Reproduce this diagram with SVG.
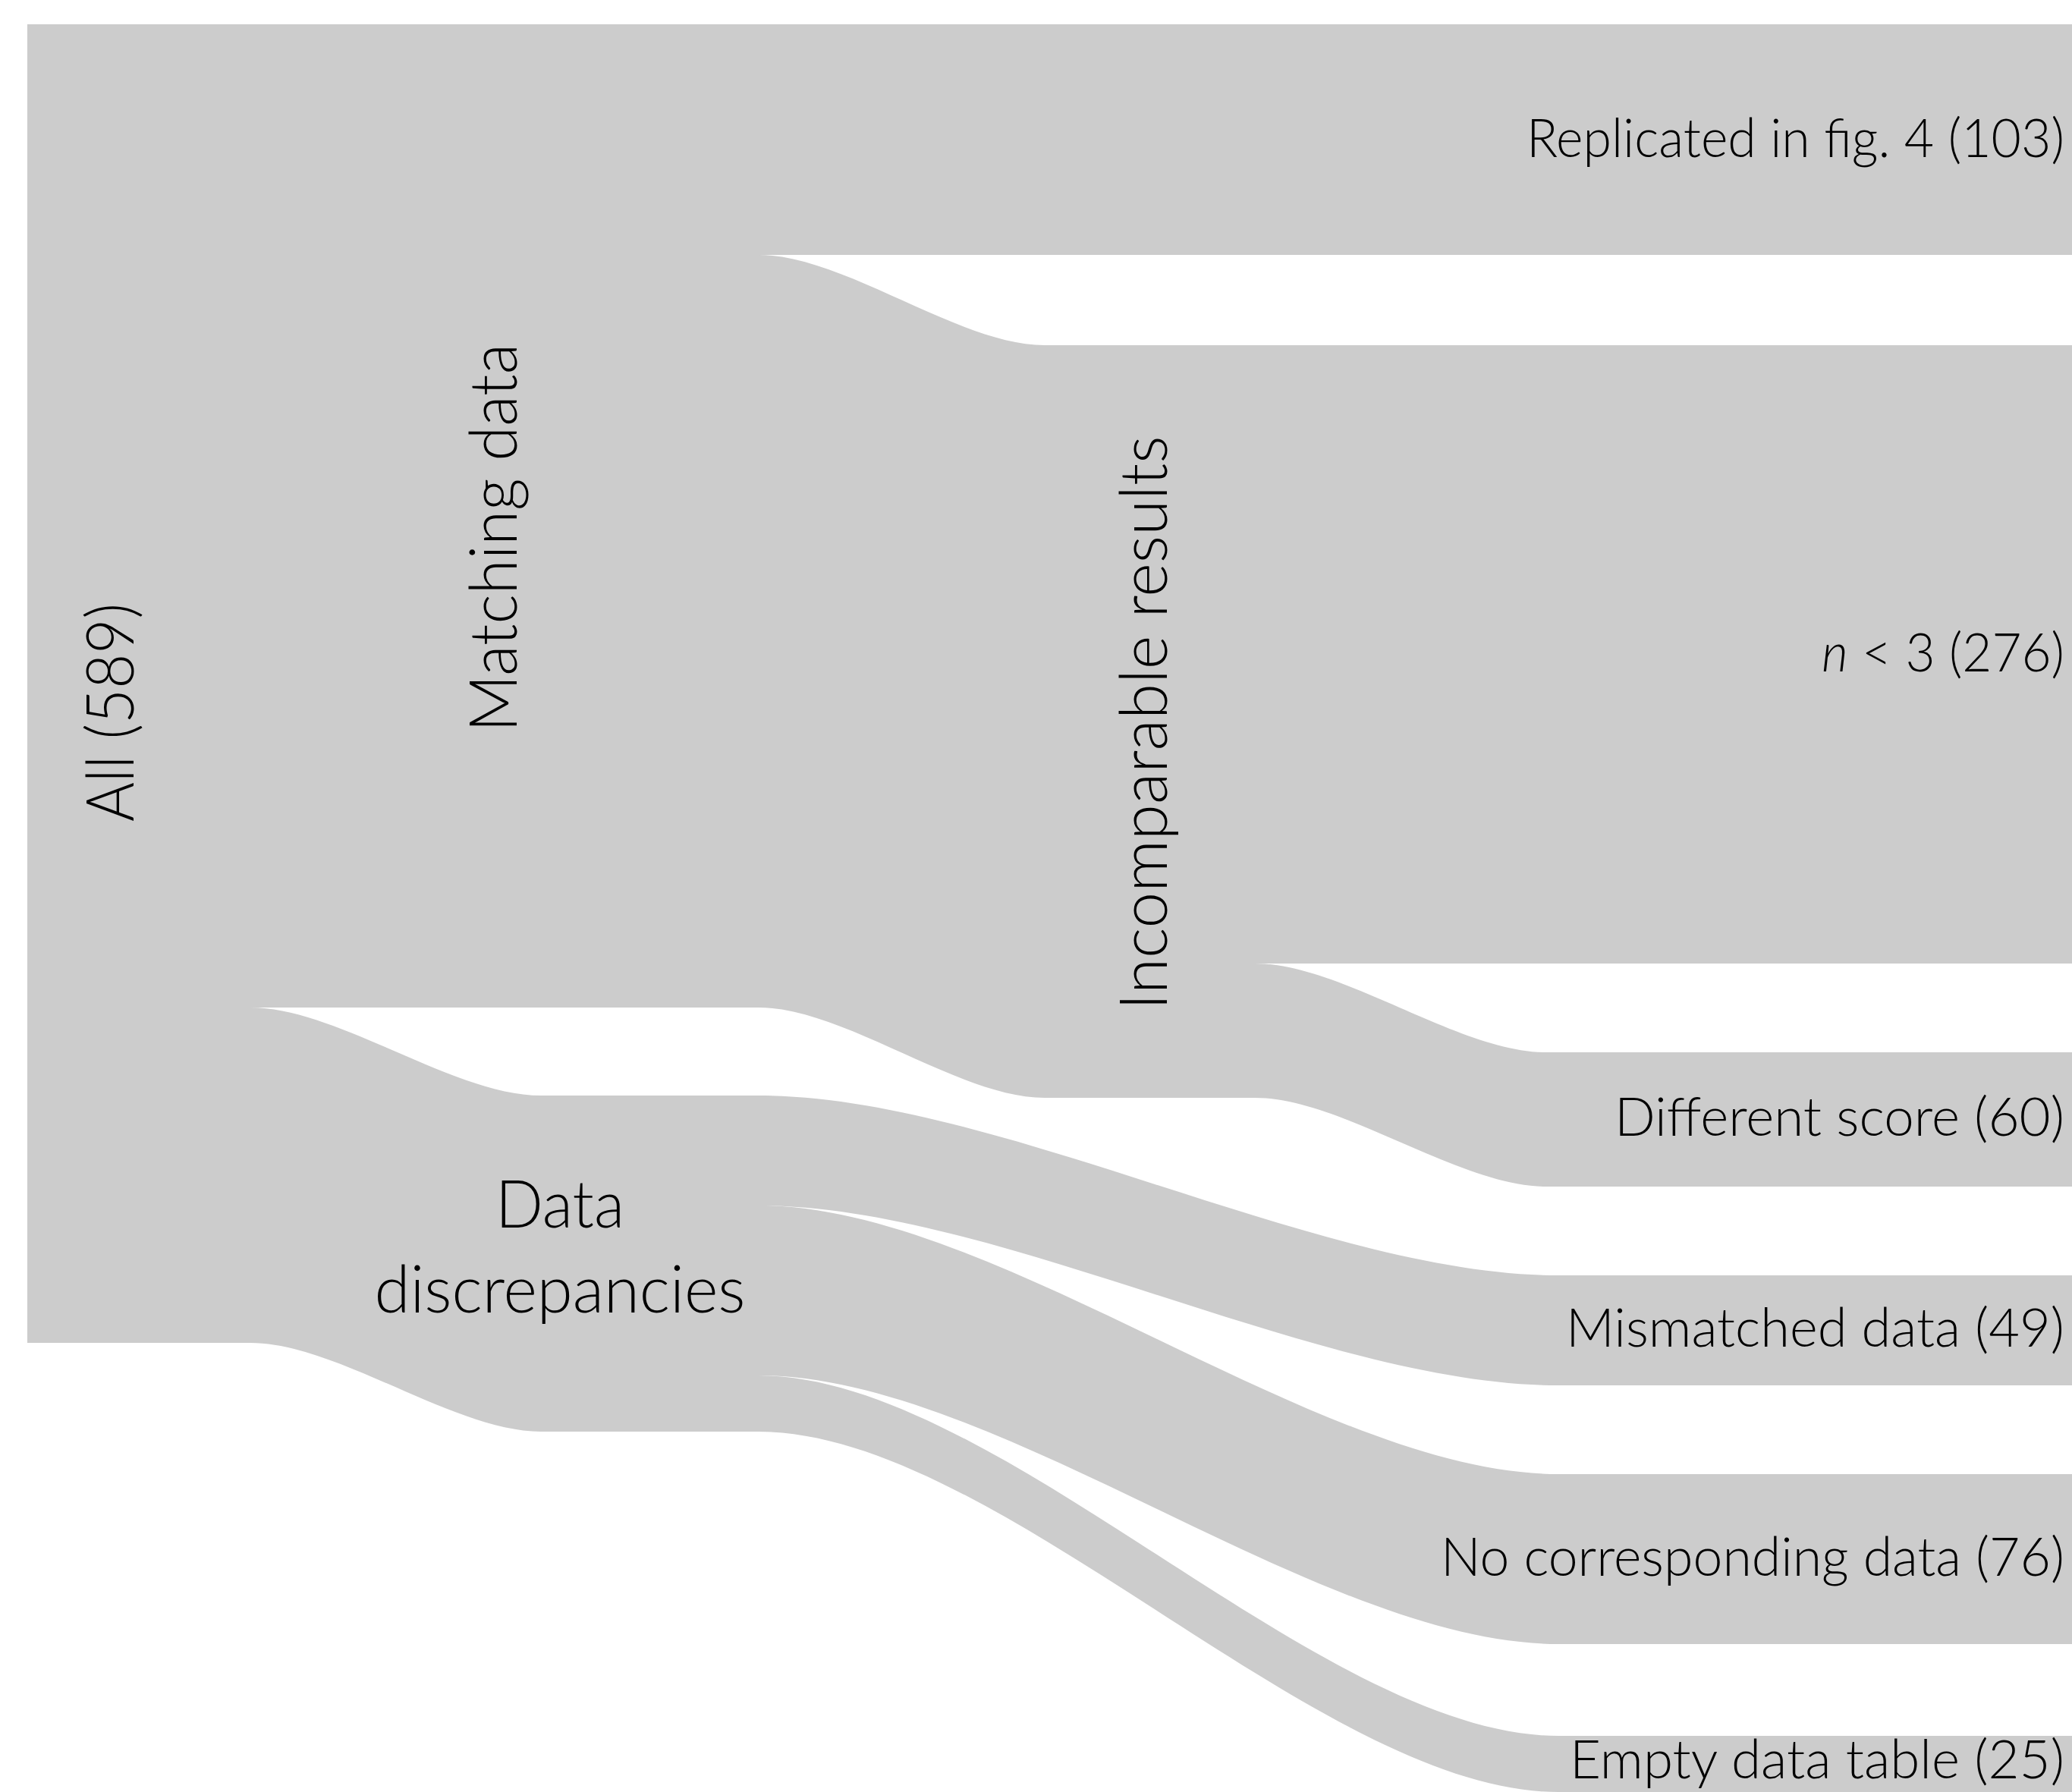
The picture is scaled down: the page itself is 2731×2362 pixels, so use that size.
<svg xmlns="http://www.w3.org/2000/svg" width="2731" height="2362" viewBox="0 0 2731 2362">
<style>
.n{fill:#cccccc}
.l{fill:#cccccc}
.t{font-family:Lato,"Open Sans","Liberation Sans",sans-serif;font-weight:300;fill:#000}
.r{font-size:71px;text-anchor:end}
.v{font-size:86px;text-anchor:middle}
</style>
<rect width="2731" height="2362" fill="#ffffff"/>
<g id="connectors">
<path class="l" d="M330,32 L1002,32 L1002,1328 L330,1328 Z"/>
<path class="l" d="M330,1328 C445,1328 598,1444 713,1444 L713,1887 C598,1887 445,1770 330,1770 Z"/>
<path class="l" d="M1000,32 L2040,32 L2040,336 L1000,336 Z"/>
<path class="l" d="M1000,336 C1113,336 1264,455 1377,455 L1377,1447 C1264,1447 1113,1328 1000,1328 Z"/>
<path class="l" d="M1654,455 L2040,455 L2040,1270 L1654,1270 Z"/>
<path class="l" d="M1654,1270 C1769,1270 1923,1387 2038,1387 L2038,1564 C1923,1564 1769,1447 1654,1447 Z"/>
<path class="l" d="M1000,1444 C1316,1444 1738,1681 2054,1681 L2054,1826 C1738,1826 1316,1589 1000,1589 Z"/>
<path class="l" d="M1000,1589 C1316,1589 1738,1943 2054,1943 L2054,2167 C1738,2167 1316,1813 1000,1813 Z"/>
<path class="l" d="M1000,1813 C1316,1813 1738,2288 2054,2288 L2054,2362 C1738,2362 1316,1887 1000,1887 Z"/>
</g>
<g id="node-all">
<rect class="n" x="36" y="32" width="295" height="1738"/>
<text class="t v" transform="translate(176,939) rotate(-90)" textLength="288" lengthAdjust="spacingAndGlyphs">All (589)</text>
</g>
<g id="node-matching">
<rect class="n" x="331" y="32" width="670" height="1296"/>
<text class="t v" transform="translate(681,709) rotate(-90)" textLength="512" lengthAdjust="spacingAndGlyphs">Matching data</text>
</g>
<g id="node-discrepancies">
<rect class="n" x="712" y="1444" width="289" height="443"/>
<text class="t v" x="738" y="1618" textLength="170" lengthAdjust="spacingAndGlyphs">Data</text>
<text class="t v" x="738" y="1730" textLength="489" lengthAdjust="spacingAndGlyphs">discrepancies</text>
</g>
<g id="node-incomparable">
<rect class="n" x="1376" y="455" width="279" height="992"/>
<text class="t v" transform="translate(1538,953) rotate(-90)" textLength="757" lengthAdjust="spacingAndGlyphs">Incomparable results</text>
</g>
<g id="node-replicated">
<rect class="n" x="2037" y="32" width="694" height="304"/>
<text class="t r" x="2721" y="207" textLength="709" lengthAdjust="spacingAndGlyphs">Replicated in fig. 4 (103)</text>
</g>
<g id="node-n3">
<rect class="n" x="2037" y="455" width="694" height="815"/>
<text class="t r" x="2721" y="885" textLength="320" lengthAdjust="spacingAndGlyphs"><tspan font-style="italic">n</tspan> &lt; 3 (276)</text>
</g>
<g id="node-different">
<rect class="n" x="2037" y="1387" width="694" height="177"/>
<text class="t r" x="2721" y="1497" textLength="593" lengthAdjust="spacingAndGlyphs">Different score (60)</text>
</g>
<g id="node-mismatched">
<rect class="n" x="2053" y="1681" width="678" height="145"/>
<text class="t r" x="2721" y="1775" textLength="657" lengthAdjust="spacingAndGlyphs">Mismatched data (49)</text>
</g>
<g id="node-nocorr">
<rect class="n" x="2053" y="1943" width="678" height="224"/>
<text class="t r" x="2721" y="2077" textLength="822" lengthAdjust="spacingAndGlyphs">No corresponding data (76)</text>
</g>
<g id="node-empty">
<rect class="n" x="2053" y="2288" width="678" height="74"/>
<text class="t r" x="2721" y="2344" textLength="652" lengthAdjust="spacingAndGlyphs">Empty data table (25)</text>
</g>
</svg>
